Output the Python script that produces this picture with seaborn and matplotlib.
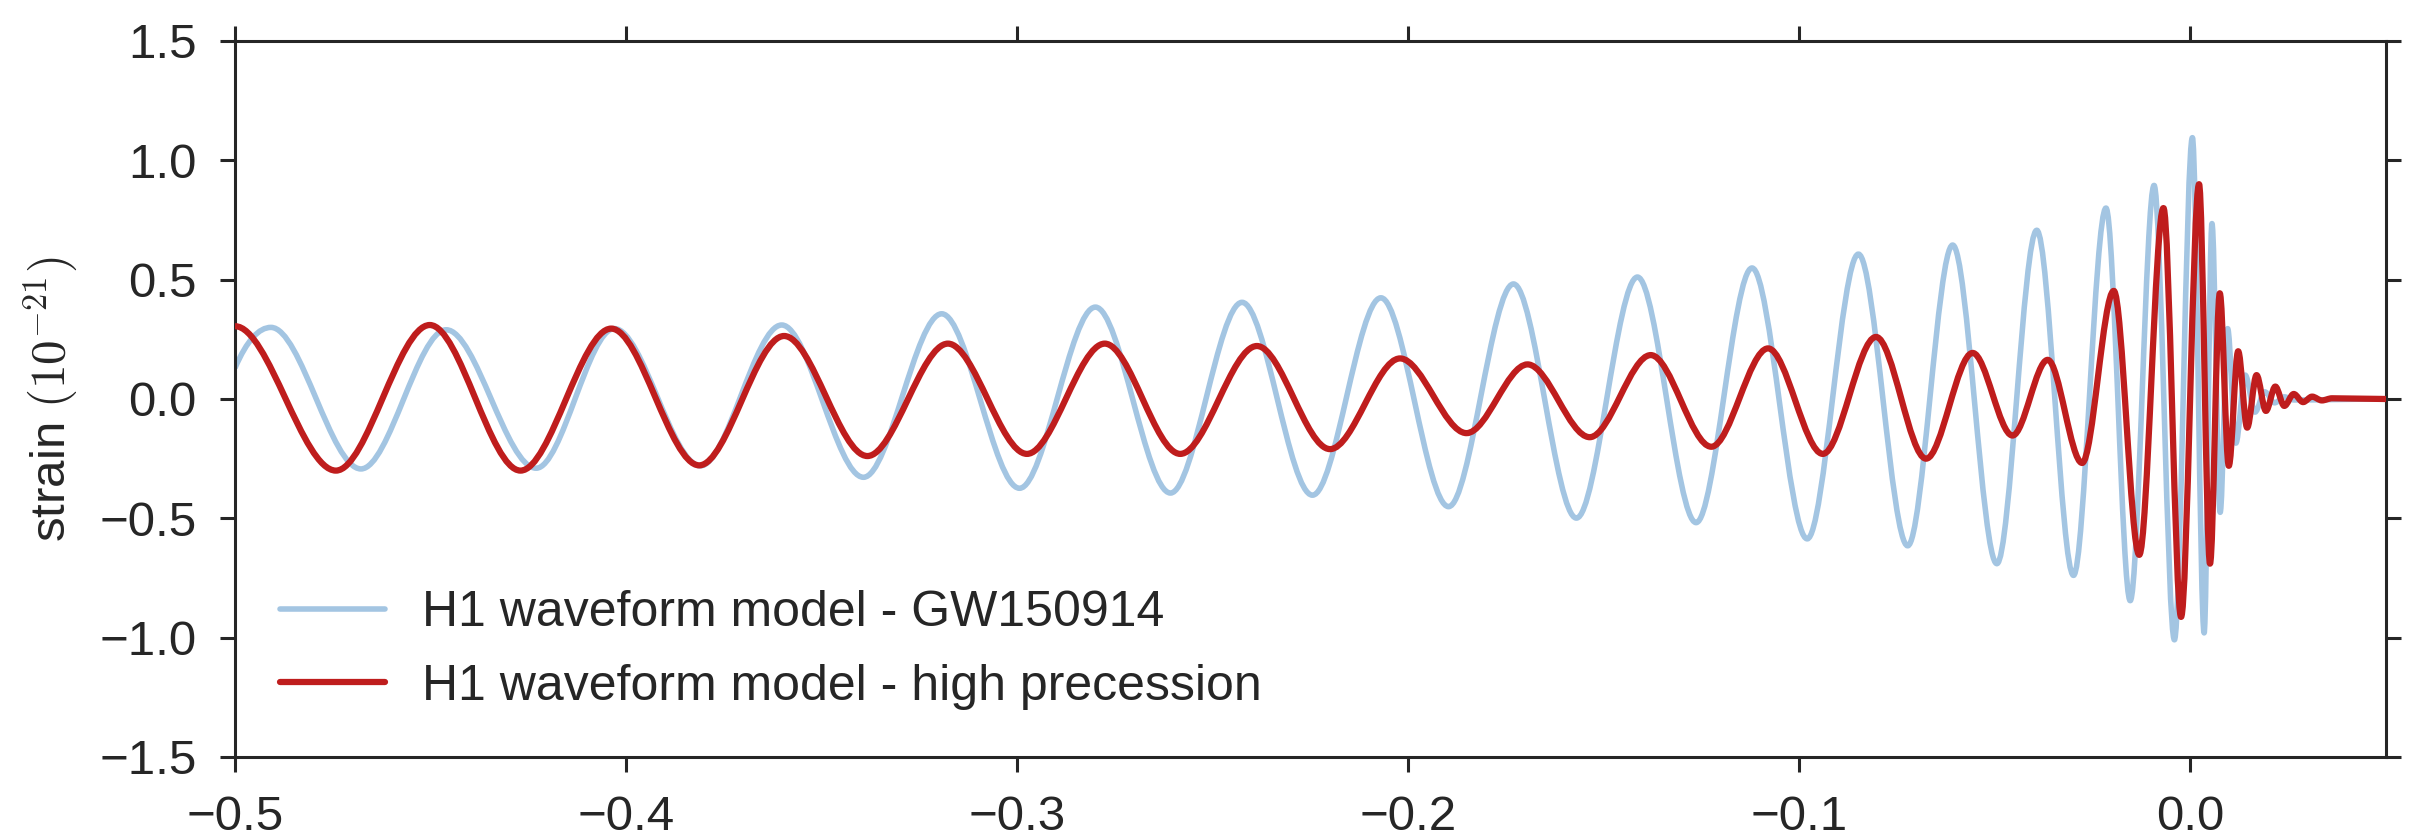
import matplotlib
matplotlib.use("Agg")
import matplotlib.pyplot as plt
from matplotlib.path import Path
from matplotlib.patches import PathPatch
from matplotlib.lines import Line2D
import seaborn as sns
import numpy as np

# extrema (time in s, strain in 1e-21)
gw_t = [-0.5, -0.4908, -0.4678, -0.446, -0.423, -0.403, -0.381, -0.3602, -0.3393,
        -0.3193, -0.2994, -0.2800, -0.2608, -0.2425, -0.2245, -0.2070, -0.1897,
        -0.1731, -0.1570, -0.1414, -0.1264, -0.1121, -0.0980, -0.0849, -0.0723,
        -0.0608, -0.0495, -0.0393, -0.0299, -0.0216, -0.0154, -0.0093, -0.0041,
        0.0005, 0.0035, 0.0055, 0.0076, 0.0095, 0.0116, 0.0140, 0.0165, 0.0190,
        0.0215, 0.0240, 0.0265, 0.05]
gw_h = [0.13, 0.30, -0.293, 0.29, -0.29, 0.295, -0.28, 0.31, -0.328,
        0.357, -0.374, 0.385, -0.394, 0.405, -0.403, 0.424, -0.451,
        0.482, -0.499, 0.511, -0.518, 0.549, -0.586, 0.607, -0.615,
        0.645, -0.69, 0.707, -0.739, 0.80, -0.845, 0.895, -1.009,
        1.095, -0.98, 0.735, -0.475, 0.295, -0.185, 0.10, -0.055, 0.03,
        -0.016, 0.009, -0.004, 0.0]
gw_start_slope = 38.0

prec_t = [-0.5, -0.4742, -0.4502, -0.427, -0.4038, -0.3813, -0.3596, -0.3383,
          -0.3177, -0.2975, -0.2776, -0.2583, -0.2387, -0.2200, -0.2021, -0.1851,
          -0.1695, -0.1536, -0.1380, -0.1225, -0.1080, -0.0940, -0.0804, -0.0676,
          -0.0557, -0.0455, -0.0365, -0.0277, -0.0196, -0.0131, -0.0069, -0.0024,
          0.0022, 0.0050, 0.0075, 0.0098, 0.0122, 0.0145, 0.0169, 0.0193, 0.0217,
          0.0240, 0.0264, 0.0288, 0.0311, 0.0336, 0.0362, 0.05]
prec_h = [0.305, -0.30, 0.31, -0.30, 0.295, -0.278, 0.264, -0.239,
          0.232, -0.23, 0.232, -0.230, 0.222, -0.21, 0.17, -0.143,
          0.145, -0.16, 0.184, -0.20, 0.212, -0.23, 0.26, -0.25,
          0.193, -0.153, 0.164, -0.268, 0.453, -0.653, 0.80, -0.913,
          0.90, -0.69, 0.443, -0.28, 0.20, -0.12, 0.10, -0.05, 0.052,
          -0.029, 0.021, -0.013, 0.01, -0.006, 0.003, 0.0]

xticks = [-0.5, -0.4, -0.3, -0.2, -0.1, 0.0]
yticks = [-1.5, -1.0, -0.5, 0.0, 0.5, 1.0, 1.5]

gw_color = "#a3c5e2"
prec_color = "#bf1d1d"


def wave_path(t, h, start_slope=0.0):
    # smooth curve through the extrema: cubic Bezier segments, flat at each extremum
    verts = [(t[0], h[0])]
    codes = [Path.MOVETO]
    for i in range(len(t) - 1):
        dt = t[i + 1] - t[i]
        s0 = start_slope if i == 0 else 0.0
        verts += [(t[i] + dt / 3, h[i] + s0 * dt / 3),
                  (t[i + 1] - dt / 3, h[i + 1]),
                  (t[i + 1], h[i + 1])]
        codes += [Path.CURVE4] * 3
    return Path(verts, codes)


sns.set_theme(style="ticks")
plt.rcParams["font.family"] = ["Liberation Sans", "DejaVu Sans"]
plt.rcParams["mathtext.fontset"] = "cm"

fs = 35.5
fig = plt.figure(figsize=(24.1, 8.36), dpi=100)
ax = fig.add_axes([235 / 2410, 1 - 757 / 836, (2386 - 235) / 2410, (757 - 41) / 836])

ax.add_patch(PathPatch(wave_path(gw_t, gw_h, gw_start_slope), facecolor="none",
                       edgecolor=gw_color, lw=4.0, joinstyle="round", zorder=2))
ax.add_patch(PathPatch(wave_path(prec_t, prec_h), facecolor="none",
                       edgecolor=prec_color, lw=4.5, joinstyle="round", zorder=3))

ax.set_xlim(-0.5, 0.05)
ax.set_ylim(-1.5, 1.5)
ax.set_xticks(xticks)
ax.set_yticks(yticks)
ax.set_xticklabels([f"{v:.1f}".replace("-", "\u2212") for v in xticks])
ax.set_yticklabels([f"{v:.1f}".replace("-", "\u2212") for v in yticks])

for sp in ax.spines.values():
    sp.set_linewidth(2.2)
    sp.set_visible(True)
ax.tick_params(axis="both", which="major", direction="out", length=11, width=2.2,
               labelsize=fs, pad=16.5, top=True, right=True,
               labeltop=False, labelright=False)

ax.set_ylabel(r"strain $(10^{-21})$", fontsize=fs, labelpad=14)

handles = [Line2D([], [], color=gw_color, lw=4.0),
           Line2D([], [], color=prec_color, lw=4.5)]
labels = ["H1 waveform model - GW150914", "H1 waveform model - high precession"]
ax.legend(handles, labels, loc="upper left", bbox_to_anchor=(0.0209, 0.233),
          frameon=False, fontsize=36, borderpad=0, borderaxespad=0,
          handlelength=2.1, handletextpad=0.74, labelspacing=0.55)

fig.savefig("out.png", dpi=100)
plt.close(fig)
